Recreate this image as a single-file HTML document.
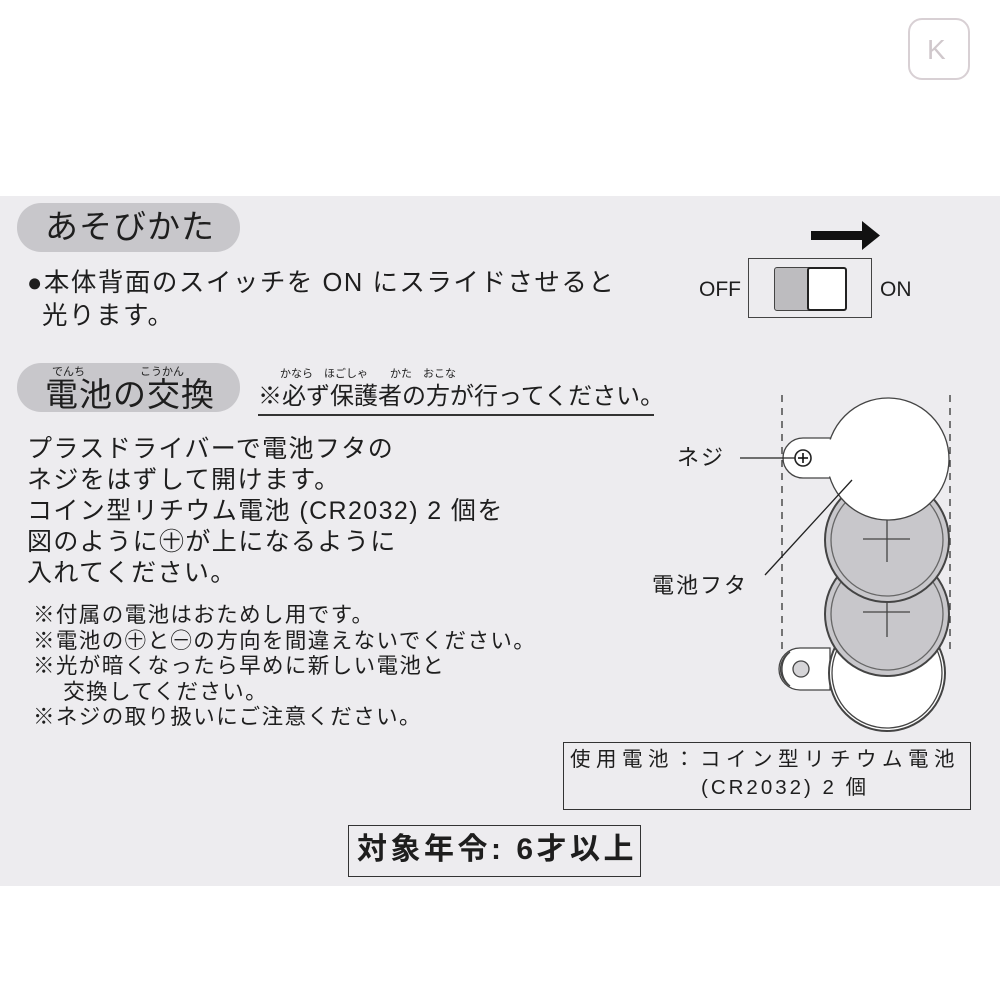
<!DOCTYPE html>
<html><head><meta charset="utf-8"><style>
html,body{margin:0;padding:0}
body{width:1000px;height:1000px;position:relative;background:#fff;font-family:"Liberation Sans","Noto Sans CJK JP",sans-serif;color:#1e1e1e;overflow:hidden}
.card{position:absolute;left:0;top:196px;width:1000px;height:690px;background:#edecef}
.t{position:absolute;white-space:nowrap;line-height:1}
.pill{position:absolute;background:#c8c7cb;border-radius:24px}
</style></head><body>
<div style="position:absolute;left:908px;top:18px;width:62px;height:62px;border:2px solid #d8d0d4;border-radius:14px;box-sizing:border-box"></div>
<div class="t" style="left:927px;top:36px;font-size:28px;color:#d0c8cc">K</div>
<div class="card"></div>

<div class="pill" style="left:17px;top:203px;width:223px;height:49px"></div>
<div class="t" style="left:45px;top:210px;font-size:33px;letter-spacing:1px">あそびかた</div>
<div class="t" style="left:27px;top:271px;font-size:25.5px;letter-spacing:1.5px">●本体背面のスイッチを ON にスライドさせると</div>
<div class="t" style="left:42px;top:304px;font-size:25.5px;letter-spacing:1.5px">光ります。</div>

<div class="pill" style="left:17px;top:363px;width:223px;height:49px"></div>
<div class="t" style="left:52px;top:367px;font-size:11px">でんち</div>
<div class="t" style="left:140px;top:367px;font-size:11px">こうかん</div>
<div class="t" style="left:45px;top:378px;font-size:33px;letter-spacing:1px">電池の交換</div>
<div class="t" style="left:280px;top:369px;font-size:11px">かなら　ほごしゃ　　かた　おこな</div>
<div class="t" style="left:258px;top:385px;font-size:24px">※必ず保護者の方が行ってください。</div>
<div style="position:absolute;left:258px;top:414px;width:396px;height:1.5px;background:#333"></div>

<div class="t" style="left:27px;top:434px;font-size:25px;line-height:31px;letter-spacing:1.4px">プラスドライバーで電池フタの<br>ネジをはずして開けます。<br>コイン型リチウム電池 (CR2032) 2 個を<br>図のように㊉が上になるように<br>入れてください。</div>
<div class="t" style="left:33px;top:603px;font-size:21.5px;line-height:25.5px;letter-spacing:1.4px">※付属の電池はおためし用です。<br>※電池の㊉と㊀の方向を間違えないでください。<br>※光が暗くなったら早めに新しい電池と<br>　 交換してください。<br>※ネジの取り扱いにご注意ください。</div>

<div class="t" style="left:699px;top:279px;font-size:21px">OFF</div>
<div class="t" style="left:880px;top:279px;font-size:21px">ON</div>
<div style="position:absolute;left:748px;top:258px;width:124px;height:60px;border:1.5px solid #444;box-sizing:border-box"></div>
<div style="position:absolute;left:774px;top:267px;width:36px;height:44px;background:#bdbcbf;border:1.5px solid #444;box-sizing:border-box;border-radius:3px 0 0 3px"></div>
<div style="position:absolute;left:807px;top:267px;width:40px;height:44px;background:#fff;border:2px solid #222;box-sizing:border-box;border-radius:3px"></div>
<svg style="position:absolute;left:0;top:0" width="1000" height="1000">
<polygon points="811,231 862,231 862,221 880,235.5 862,250 862,240 811,240" fill="#111"/>
<g stroke="#333" stroke-width="1.3" fill="none">
<line x1="782" y1="395" x2="782" y2="650" stroke-dasharray="7,6"/>
<line x1="950" y1="395" x2="950" y2="650" stroke-dasharray="7,6"/>
</g>
<g stroke="#444" stroke-width="1.3">
<path d="M830,648 L800,648 A21,21 0 0 0 800,690 L830,690 Z" fill="#fff"/>
<path d="M790,652 A20,20 0 0 0 790,686 A22,22 0 0 1 790,652Z" fill="#c8c7cb"/>
<circle cx="801" cy="669" r="8" fill="#d6d5d8"/>
<circle cx="887" cy="673" r="58" fill="#fff" stroke-width="2"/>
<circle cx="887" cy="673" r="55" fill="none"/>
<circle cx="887" cy="614" r="62" fill="#c8c7cb" stroke-width="2"/>
<circle cx="887" cy="614" r="56" fill="none" stroke="#666"/>
<line x1="863" y1="612" x2="910" y2="612"/><line x1="887" y1="590" x2="887" y2="637"/>
<circle cx="887" cy="540" r="62" fill="#c8c7cb" stroke-width="2"/>
<circle cx="887" cy="540" r="56" fill="none" stroke="#666"/>
<line x1="863" y1="539" x2="910" y2="539"/><line x1="887" y1="517" x2="887" y2="562"/>
<path d="M835,438 L803,438 A20,20 0 0 0 803,478 L835,478 Z" fill="#fff"/>
<circle cx="888" cy="459" r="61" fill="#fff"/>
<rect x="820" y="439.5" width="22" height="37" fill="#fff" stroke="none"/>
<circle cx="803" cy="458" r="8" fill="#fff" stroke="#222" stroke-width="1.6"/>
<line x1="798" y1="458" x2="808" y2="458" stroke="#111" stroke-width="1.6"/>
<line x1="803" y1="453" x2="803" y2="463" stroke="#111" stroke-width="1.6"/>
<line x1="740" y1="458" x2="795" y2="458" stroke="#222"/>
<line x1="852" y1="480" x2="765" y2="575" stroke="#222"/>
</g>
</svg>
<div class="t" style="left:677px;top:447px;font-size:22px;letter-spacing:2px">ネジ</div>
<div class="t" style="left:652px;top:575px;font-size:22px;letter-spacing:2px">電池フタ</div>

<div style="position:absolute;left:563px;top:742px;width:408px;height:68px;border:1.5px solid #333;box-sizing:border-box"></div>
<div class="t" style="left:570px;top:750px;font-size:20.5px;letter-spacing:5.5px">使用電池：コイン型リチウム電池</div>
<div class="t" style="left:701px;top:778px;font-size:20.5px;letter-spacing:3px">(CR2032) 2 個</div>
<div style="position:absolute;left:348px;top:825px;width:293px;height:52px;border:1.5px solid #333;box-sizing:border-box"></div>
<div class="t" style="left:357px;top:835px;font-size:30px;font-weight:bold;letter-spacing:3.5px">対象年令: 6才以上</div>
</body></html>
